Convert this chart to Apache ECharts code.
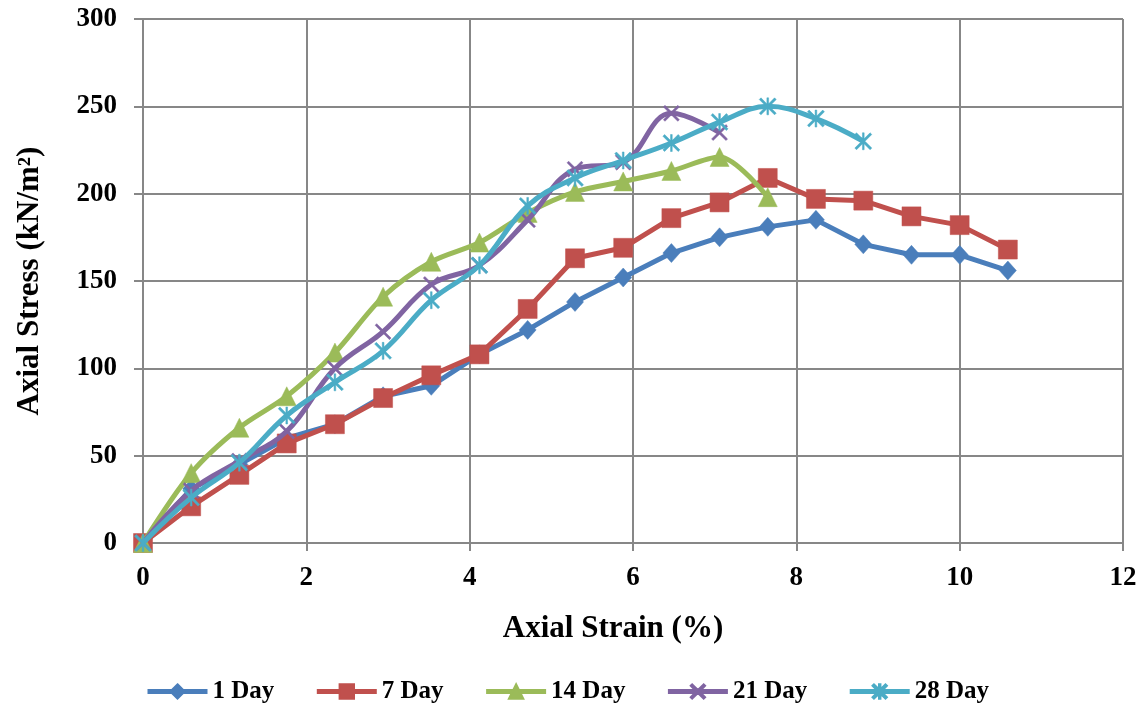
<!DOCTYPE html>
<html>
<head>
<meta charset="utf-8">
<style>
  html, body { margin: 0; padding: 0; background: #ffffff; }
  #chart { width: 1142px; height: 717px; }
</style>
<script src="https://cdn.jsdelivr.net/npm/echarts@6/dist/echarts.min.js"></script>
</head>
<body>
<div id="chart"></div>
<script>
// Axial strain (%) readings, shared by all curing ages
const strain = [0, 0.59, 1.18, 1.76, 2.35, 2.94, 3.53, 4.12, 4.71, 5.29, 5.88, 6.47, 7.06, 7.65, 8.24, 8.82, 9.41, 10.0, 10.59];

// Axial stress (kN/m²) for each curing age
const day1  = [0, 31, 45, 60, 68, 84, 90, 108, 122, 138, 152, 166, 175, 181, 185, 171, 165, 165, 156];
const day7  = [0, 21, 39, 57, 68, 83, 96, 108, 134, 163, 169, 186, 195, 209, 197, 196, 187, 182, 168];
const day14 = [0, 40, 66, 84, 109, 141, 161, 172, 189, 201, 207, 213, 221, 198];
const day21 = [0, 30, 47, 64, 100, 121, 148, 159, 185, 214, 218, 246, 235];
const day28 = [0, 26, 46, 73, 92, 110, 139, 159, 193, 209, 219, 229, 241, 250, 243, 230];

const seriesNames = ['1 Day', '7 Day', '14 Day', '21 Day', '28 Day'];
const xTicks = { min: 0, max: 12, step: 2 };
const yTicks = { min: 0, max: 300, step: 50 };

const FONT = '"Liberation Serif", "Times New Roman", serif';
const GRID_GRAY = '#878787';

// marker shapes: a thin cross and an asterisk
const crossPath = 'path://M0,2 L2,0 L10,8 L18,0 L20,2 L12,10 L20,18 L18,20 L10,12 L2,20 L0,18 L8,10 Z';
const starPath  = 'path://M0,2 L2,0 L10,8 L18,0 L20,2 L12,10 L20,18 L18,20 L10,12 L2,20 L0,18 L8,10 Z M9,0 L11,0 L11,20 L9,20 Z';

function pairs(ys) {
  return ys.map((y, i) => [strain[i], y]);
}

const styles = [
  { data: day1,  color: '#4A7EBB', symbol: 'diamond',  size: [17, 19], smooth: false },
  { data: day7,  color: '#C0504D', symbol: 'rect',     size: 19,       smooth: false },
  { data: day14, color: '#9BBB59', symbol: 'triangle', size: 19,       smooth: 0.3 },
  { data: day21, color: '#8064A2', symbol: crossPath,  size: 16,       smooth: 0.4 },
  { data: day28, color: '#4BACC6', symbol: starPath,   size: 17,       smooth: 0.4 }
];

const chart = echarts.init(document.getElementById('chart'), null, { renderer: 'canvas' });

chart.setOption({
  animation: false,
  backgroundColor: '#ffffff',
  grid: { left: 143, right: 19, top: 19, bottom: 174, containLabel: false },
  legend: {
    data: seriesNames,
    bottom: 8,
    left: 140,
    itemWidth: 60,
    itemHeight: 18,
    itemGap: 40,
    lineStyle: { width: 5 },
    textStyle: { fontFamily: FONT, fontWeight: 'bold', fontSize: 25, color: '#000' }
  },
  xAxis: {
    type: 'value',
    min: xTicks.min, max: xTicks.max, interval: xTicks.step,
    name: 'Axial Strain (%)',
    nameLocation: 'middle',
    nameGap: 70,
    nameTextStyle: { fontFamily: FONT, fontWeight: 'bold', fontSize: 31, color: '#000', padding: [0, 40, 0, 0] },
    axisLine: { show: true, lineStyle: { color: GRID_GRAY, width: 2 } },
    axisTick: { show: true, inside: false, length: 8, lineStyle: { color: GRID_GRAY, width: 2 } },
    axisLabel: { margin: 22, fontFamily: FONT, fontWeight: 'bold', fontSize: 27, color: '#000' },
    splitLine: { show: true, lineStyle: { color: GRID_GRAY, width: 2 } }
  },
  yAxis: {
    type: 'value',
    min: yTicks.min, max: yTicks.max, interval: yTicks.step,
    name: 'Axial Stress (kN/m²)',
    nameLocation: 'middle',
    nameGap: 98,
    nameTextStyle: { fontFamily: FONT, fontWeight: 'bold', fontSize: 31, color: '#000' },
    axisLine: { show: true, lineStyle: { color: GRID_GRAY, width: 2 } },
    axisTick: { show: true, inside: false, length: 9, lineStyle: { color: GRID_GRAY, width: 2 } },
    axisLabel: { margin: 26, fontFamily: FONT, fontWeight: 'bold', fontSize: 27, color: '#000' },
    splitLine: { show: true, lineStyle: { color: GRID_GRAY, width: 2 } }
  },
  series: styles.map((s, i) => ({
    name: seriesNames[i],
    type: 'line',
    data: pairs(s.data),
    smooth: s.smooth,
    symbol: s.symbol,
    symbolSize: s.size,
    showAllSymbol: true,
    lineStyle: { color: s.color, width: 5 },
    itemStyle: { color: s.color, borderColor: s.color, borderWidth: 0.5 },
    emphasis: { disabled: true },
    z: 2 + i
  }))
});
</script>
</body>
</html>
